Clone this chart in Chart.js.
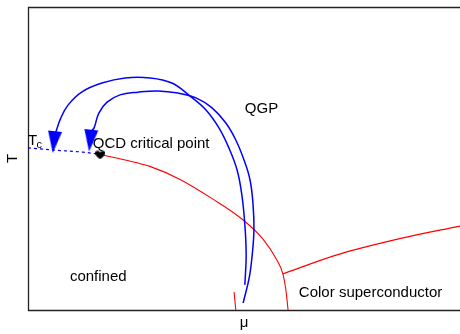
<!DOCTYPE html>
<html>
<head>
<meta charset="utf-8">
<script src="https://cdn.jsdelivr.net/npm/chart.js@4/dist/chart.umd.min.js"></script>
<style>
  html, body { margin: 0; padding: 0; background: #fff; }
  canvas { display: block; }
</style>
</head>
<body>
<canvas id="phase" width="460" height="334"></canvas>
<script>
// QCD phase diagram, chemical potential μ vs temperature T (arbitrary units, 0–100)

// crossover (dashed) from T_c down to the critical point
const crossMu = [0, 5.8, 12.7, 16.0];
const crossT  = [53.5, 52.8, 52.1, 51.5];

// first-order line from the critical point down to the μ axis
const firstOrderMu = [16.2, 22.5, 28.2, 35.2, 42.8, 49.8, 54.4, 57.6, 59.0, 59.7, 60.2];
const firstOrderT  = [51.5, 49.5, 47.4, 43.1, 36.6, 29.7, 23.4, 16.5, 11.9, 6.6, 0];

// colour-superconductor boundary
const cscMu = [59.0, 71.5, 86.8, 100];
const cscT  = [11.9, 18.2, 23.8, 27.7];

// nuclear liquid–gas segment near the μ axis
const nuclearMu = [47.7, 48.1];
const nuclearT  = [5.9, 0];

// collision trajectories (start near the μ axis, loop back over to low μ)
const outerMu = [50.2, 50.5, 50.2, 49.5, 48.4, 46.5, 44.2, 41.2, 37.5, 33.3, 28.2, 22.5, 17.1, 12.5, 9.3, 7.6, 6.3];
const outerT  = [8.3, 18.2, 28.1, 38.0, 46.2, 53.5, 60.1, 66.0, 70.6, 74.9, 76.6, 76.6, 74.9, 72.0, 67.7, 63.4, 58.1];
const innerMu = [49.8, 51.2, 51.9, 52.3, 52.1, 51.4, 50.0, 48.1, 45.8, 42.6, 38.9, 34.7, 30.1, 25.5, 21.3, 18.3, 16.4, 15.3, 14.8];
const innerT  = [2.3, 10.6, 18.2, 26.4, 34.7, 42.9, 49.5, 56.1, 61.7, 66.7, 70.0, 71.6, 72.3, 71.9, 71.0, 68.6, 65.0, 60.1, 59.4];

// arrow heads at the ends of the trajectories
const arrowMu = [6.0, 14.4];
const arrowT  = [55.4, 55.9];

// critical point
const critMu = [16.7];
const critT  = [51.2];

// region labels
const labelText = ['QGP', 'QCD critical point', 'confined', 'Color superconductor'];
const labelMu   = [50.2, 15.0, 9.7, 62.7];
const labelT    = [65.0, 53.6, 9.6, 4.3];

const zip = (xs, ys) => xs.map((x, i) => ({ x, y: ys[i] }));

const BLUE = '#0000ff';
const RED = '#ff0000';
const FONT = '"Liberation Sans", Arial, Helvetica, sans-serif';

// arrow head sprite
const arrowImg = document.createElement('canvas');
arrowImg.width = 14; arrowImg.height = 22;
(() => {
  const c = arrowImg.getContext('2d');
  c.fillStyle = BLUE;
  c.beginPath();
  c.moveTo(0, 0); c.lineTo(14, 0); c.lineTo(7, 22); c.closePath();
  c.fill();
})();

// heart sprite for the critical point
const heartImg = document.createElement('canvas');
heartImg.width = 10; heartImg.height = 9;
(() => {
  const c = heartImg.getContext('2d');
  c.fillStyle = '#000';
  c.beginPath();
  c.moveTo(5, 9);
  c.bezierCurveTo(1, 6, 0, 4.5, 0, 2.6);
  c.bezierCurveTo(0, 0.6, 2.6, -0.6, 5, 2);
  c.bezierCurveTo(7.4, -0.6, 10, 0.6, 10, 2.6);
  c.bezierCurveTo(10, 4.5, 9, 6, 5, 9);
  c.closePath();
  c.fill();
})();

const framePlugin = {
  id: 'frame',
  beforeDatasetsDraw(chart) {
    const { ctx, chartArea: a } = chart;
    ctx.save();
    ctx.strokeStyle = '#222';
    ctx.lineWidth = 1.3;
    ctx.beginPath();
    ctx.moveTo(a.right + 2, a.top + 0.5);
    ctx.lineTo(a.left + 0.5, a.top + 0.5);
    ctx.lineTo(a.left + 0.5, a.bottom + 0.5);
    ctx.lineTo(a.right + 2, a.bottom + 0.5);
    ctx.stroke();
    ctx.restore();
  }
};

const textPlugin = {
  id: 'texts',
  afterDatasetsDraw(chart) {
    const { ctx, chartArea: a, scales: { x, y } } = chart;
    ctx.save();
    ctx.fillStyle = '#000';
    ctx.textBaseline = 'alphabetic';
    ctx.textAlign = 'left';
    ctx.font = '15px ' + FONT;
    labelText.forEach((t, i) => {
      ctx.fillText(t, x.getPixelForValue(labelMu[i]), y.getPixelForValue(labelT[i]));
    });
    // T_c on the T axis
    const tcx = x.getPixelForValue(0);
    const tcy = y.getPixelForValue(54.5);
    ctx.font = '15px ' + FONT;
    ctx.fillText('T', tcx, tcy);
    ctx.font = '11px ' + FONT;
    ctx.fillText('c', tcx + 8.5, tcy + 3);
    // axis titles
    ctx.font = '15px ' + FONT;
    ctx.textAlign = 'center';
    ctx.fillText('μ', (a.left + a.right) / 2, a.bottom + 17);
    ctx.save();
    ctx.translate(a.left - 11, (a.top + a.bottom) / 2);
    ctx.rotate(-Math.PI / 2);
    ctx.fillText('T', 0, 0);
    ctx.restore();
    ctx.restore();
  }
};

const line = (data, color, width, extra) => Object.assign({
  data, showLine: true, borderColor: color, backgroundColor: color,
  borderWidth: width, pointRadius: 0, pointHoverRadius: 0,
  tension: 0.4, fill: false
}, extra || {});

new Chart(document.getElementById('phase'), {
  type: 'scatter',
  data: {
    datasets: [
      { data: zip(critMu, critT), pointStyle: heartImg, pointRadius: 5, showLine: false },
      { data: zip(arrowMu, arrowT), pointStyle: arrowImg, pointRadius: 8, pointRotation: 6, showLine: false },
      line(zip(outerMu, outerT), BLUE, 1.5),
      line(zip(innerMu, innerT), BLUE, 1.5),
      line(zip(crossMu, crossT), BLUE, 1.2, { borderDash: [3, 3], cubicInterpolationMode: 'monotone' }),
      line(zip(firstOrderMu, firstOrderT), RED, 1.1, { cubicInterpolationMode: 'monotone' }),
      line(zip(cscMu, cscT), RED, 1.1, { cubicInterpolationMode: 'monotone' }),
      line(zip(nuclearMu, nuclearT), RED, 1.1)
    ]
  },
  options: {
    responsive: false,
    animation: false,
    devicePixelRatio: 1,
    layout: { autoPadding: false, padding: { left: 28, top: 7, right: 0, bottom: 24 } },
    plugins: { legend: { display: false }, tooltip: { enabled: false } },
    events: [],
    scales: {
      x: { type: 'linear', min: 0, max: 100, display: false },
      y: { type: 'linear', min: 0, max: 100, display: false }
    }
  },
  plugins: [framePlugin, textPlugin]
});
</script>
</body>
</html>
